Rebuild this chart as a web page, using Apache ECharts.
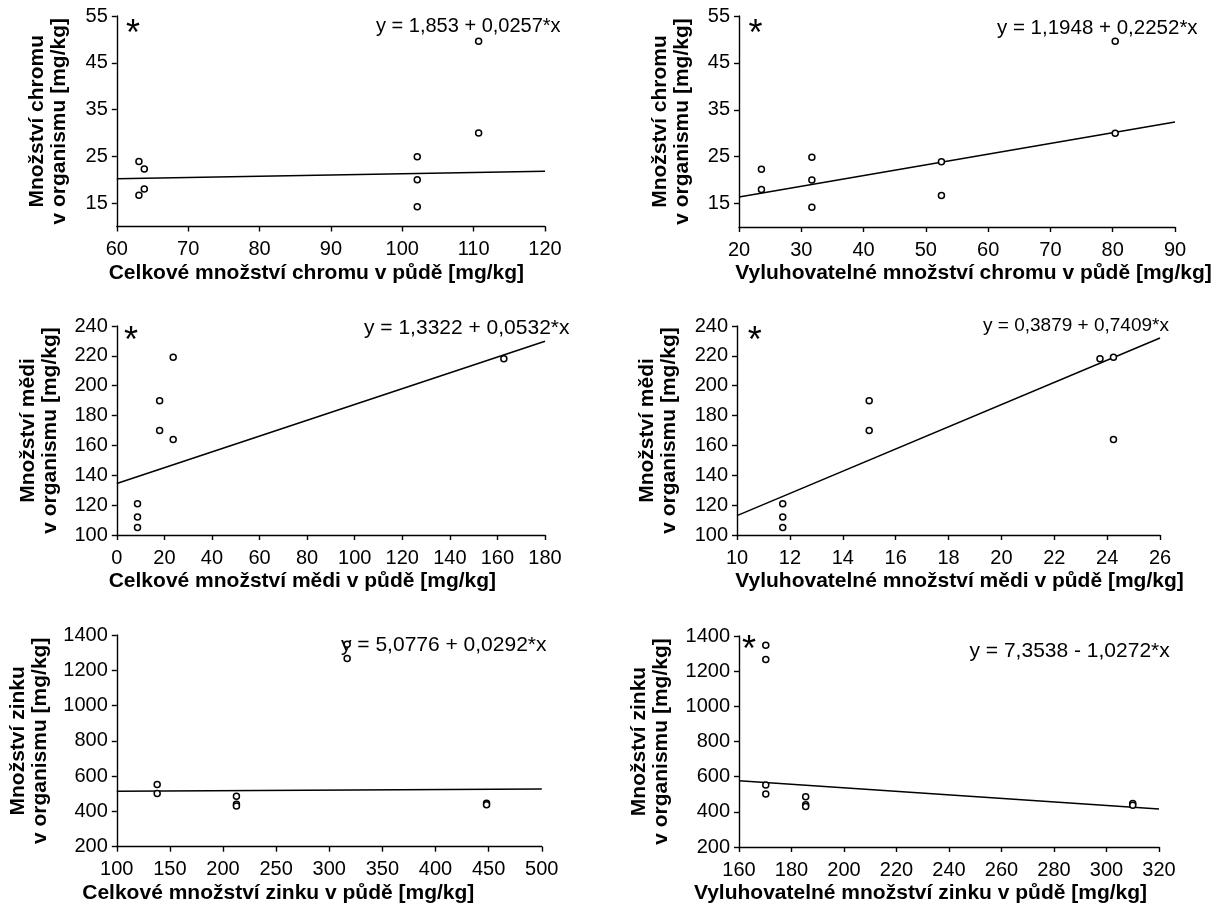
<!DOCTYPE html>
<html><head><meta charset="utf-8">
<script src="https://cdn.jsdelivr.net/npm/echarts@6/dist/echarts.min.js"></script>
<style>html,body{margin:0;padding:0;background:#fff}#c{width:1228px;height:904px}</style>
</head><body><div id="c"></div>
<script>
// ---------- DATA ----------
// Chromium (organism vs. soil)
const crOrganism = [23.9, 16.7, 22.3, 18.0, 24.9, 20.0, 14.2, 49.6, 30.0];
const crTotal    = [63.1, 63.1, 63.85, 63.85, 102.1, 102.1, 102.1, 110.7, 110.7];
const crLeach    = [52.5, 52.5, 23.6, 23.6, 31.7, 31.7, 31.7, 80.4, 80.4];
const crTotalFit = [[60, 20.2], [120, 21.8]];
const crLeachFit = [[20, 16.4], [90, 32.4]];
// Copper
const cuOrganism = [219, 164, 190, 170, 121, 112, 105, 218];
const cuTotal    = [23.7, 23.7, 18, 18, 8.7, 8.7, 8.7, 162.7];
const cuLeach    = [24.24, 24.24, 15, 15, 11.73, 11.73, 11.73, 23.73];
const cuTotalFit = [[0, 134.5], [180, 229.8]];
const cuLeachFit = [[10, 113], [26, 232]];
// Zinc
const znOrganism = [553, 502, 1347, 1267, 486, 440, 430, 447, 438];
const znTotal    = [138, 138, 316.8, 316.8, 212.6, 212.6, 212.6, 448, 448];
const znLeach    = [170.2, 170.2, 170.2, 170.2, 185.4, 185.4, 185.4, 310, 310];
const znTotalFit = [[100, 515], [500, 527]];
const znLeachFit = [[160, 577], [320, 416]];

// tick labels
const crYTicks      = [15, 25, 35, 45, 55];
const crTotalXTicks = [60, 70, 80, 90, 100, 110, 120];
const crLeachXTicks = [20, 30, 40, 50, 60, 70, 80, 90];
const cuYTicks      = [100, 120, 140, 160, 180, 200, 220, 240];
const cuTotalXTicks = [0, 20, 40, 60, 80, 100, 120, 140, 160, 180];
const cuLeachXTicks = [10, 12, 14, 16, 18, 20, 22, 24, 26];
const znYTicks      = [200, 400, 600, 800, 1000, 1200, 1400];
const znTotalXTicks = [100, 150, 200, 250, 300, 350, 400, 450, 500];
const znLeachXTicks = [160, 180, 200, 220, 240, 260, 280, 300, 320];

// texts
const yNames = [
  'Množství chromu\nv organismu [mg/kg]', 'Množství chromu\nv organismu [mg/kg]',
  'Množství mědi\nv organismu [mg/kg]', 'Množství mědi\nv organismu [mg/kg]',
  'Množství zinku\nv organismu [mg/kg]', 'Množství zinku\nv organismu [mg/kg]'
];
const xNames = [
  'Celkové množství chromu v půdě [mg/kg]', 'Vyluhovatelné množství chromu v půdě [mg/kg]',
  'Celkové množství mědi v půdě [mg/kg]', 'Vyluhovatelné množství mědi v půdě [mg/kg]',
  'Celkové množství zinku v půdě [mg/kg]', 'Vyluhovatelné množství zinku v půdě [mg/kg]'
];
const equations = [
  'y = 1,853 + 0,0257*x', 'y = 1,1948 + 0,2252*x',
  'y = 1,3322 + 0,0532*x', 'y = 0,3879 + 0,7409*x',
  'y = 5,0776 + 0,0292*x', 'y = 7,3538 - 1,0272*x'
];
const significant = [true, true, true, true, false, true];

// ---------- LAYOUT ----------
const FONT = "'Liberation Sans', Arial, Helvetica, sans-serif";
const panels = [
  {x: crTotal, y: crOrganism, fit: crTotalFit, xt: crTotalXTicks, yt: crYTicks, xMin: 60, xMax: 120, yMin: 10, yMax: 55,
   grid: {left: 116.8, top: 16, width: 428.2, height: 210.5}, yGap: 47, xShift: -14.5, eq: [376, 28.5, 20], star: [134, 27]},
  {x: crLeach, y: crOrganism, fit: crLeachFit, xt: crLeachXTicks, yt: crYTicks, xMin: 20, xMax: 90, yMin: 10, yMax: 55,
   grid: {left: 739, top: 16, width: 436, height: 211}, yGap: 46, xShift: 16.5, eq: [997, 30, 20.5], star: [756.6, 27]},
  {x: cuTotal, y: cuOrganism, fit: cuTotalFit, xt: cuTotalXTicks, yt: cuYTicks, xMin: 0, xMax: 180, yMin: 100, yMax: 240,
   grid: {left: 116.8, top: 326, width: 428.2, height: 209}, yGap: 56, xShift: -28.5, eq: [364, 330, 21], star: [132, 334]},
  {x: cuLeach, y: cuOrganism, fit: cuLeachFit, xt: cuLeachXTicks, yt: cuYTicks, xMin: 10, xMax: 26, yMin: 100, yMax: 240,
   grid: {left: 737, top: 326, width: 423, height: 209}, yGap: 57, xShift: 11, eq: [983, 328, 19], star: [755.8, 334]},
  {x: znTotal, y: znOrganism, fit: znTotalFit, xt: znTotalXTicks, yt: znYTicks, xMin: 100, xMax: 500, yMin: 200, yMax: 1400,
   grid: {left: 116.8, top: 635, width: 425, height: 211.7}, yGap: 66, xShift: -51, eq: [341, 647, 21], star: null},
  {x: znLeach, y: znOrganism, fit: znLeachFit, xt: znLeachXTicks, yt: znYTicks, xMin: 160, xMax: 320, yMin: 200, yMax: 1400,
   grid: {left: 739, top: 636, width: 420, height: 211}, yGap: 67, xShift: -28.5, eq: [969.5, 653, 21], star: [750, 643]}
];

const black = '#000';
const plain = v => String(v);
const grids = [], xAxes = [], yAxes = [], series = [], graphics = [];
panels.forEach((p, i) => {
  grids.push(Object.assign({containLabel: false, outerBoundsMode: 'none'}, p.grid));
  const shiftPad = p.xShift < 0 ? [0, -2 * p.xShift, 0, 0] : [0, 0, 0, 2 * p.xShift];
  xAxes.push({
    type: 'value', gridIndex: i, min: p.xMin, max: p.xMax,
    axisLine: {show: true, onZero: false, lineStyle: {color: black, width: 1.4}},
    axisTick: {show: true, inside: false, length: 5, customValues: p.xt, lineStyle: {color: black, width: 1.4}},
    axisLabel: {customValues: p.xt, formatter: plain, color: black, fontSize: 20, fontFamily: FONT, margin: 13},
    splitLine: {show: false},
    name: xNames[i], nameLocation: 'middle', nameGap: 36,
    nameTextStyle: {color: black, fontSize: 21, fontWeight: 'bold', fontFamily: FONT, padding: shiftPad}
  });
  yAxes.push({
    type: 'value', gridIndex: i, min: p.yMin, max: p.yMax,
    axisLine: {show: true, onZero: false, lineStyle: {color: black, width: 1.4}},
    axisTick: {show: true, inside: false, length: 5, customValues: p.yt, lineStyle: {color: black, width: 1.4}},
    axisLabel: {customValues: p.yt, formatter: plain, color: black, fontSize: 20, fontFamily: FONT, margin: 9},
    splitLine: {show: false},
    name: yNames[i], nameLocation: 'middle', nameRotate: 90, nameGap: p.yGap,
    nameTextStyle: {color: black, fontSize: 21, fontWeight: 'bold', fontFamily: FONT, lineHeight: 22}
  });
  series.push({
    type: 'line', xAxisIndex: i, yAxisIndex: i, data: p.fit, showSymbol: false, symbol: 'none',
    lineStyle: {color: black, width: 1.5}, z: 2, silent: true, animation: false
  });
  series.push({
    type: 'scatter', xAxisIndex: i, yAxisIndex: i,
    data: p.x.map((v, k) => [v, p.y[k]]),
    symbol: 'circle', symbolSize: 6,
    itemStyle: {color: '#fff', borderColor: black, borderWidth: 1.5, opacity: 1},
    z: 3, animation: false
  });
  graphics.push({
    type: 'text', left: p.eq[0], top: p.eq[1] - p.eq[2] * 0.6,
    style: {text: equations[i], fill: black, font: p.eq[2] + 'px ' + FONT}
  });
  if (significant[i] && p.star) {
    graphics.push({
      type: 'text', left: p.star[0] - 8, top: p.star[1] - 10,
      style: {text: '*', fill: black, font: '36px ' + FONT}
    });
  }
});

const chart = echarts.init(document.getElementById('c'), null, {renderer: 'canvas'});
chart.setOption({
  animation: false,
  backgroundColor: '#fff',
  grid: grids, xAxis: xAxes, yAxis: yAxes, series: series,
  graphic: graphics
});
</script>
</body></html>
